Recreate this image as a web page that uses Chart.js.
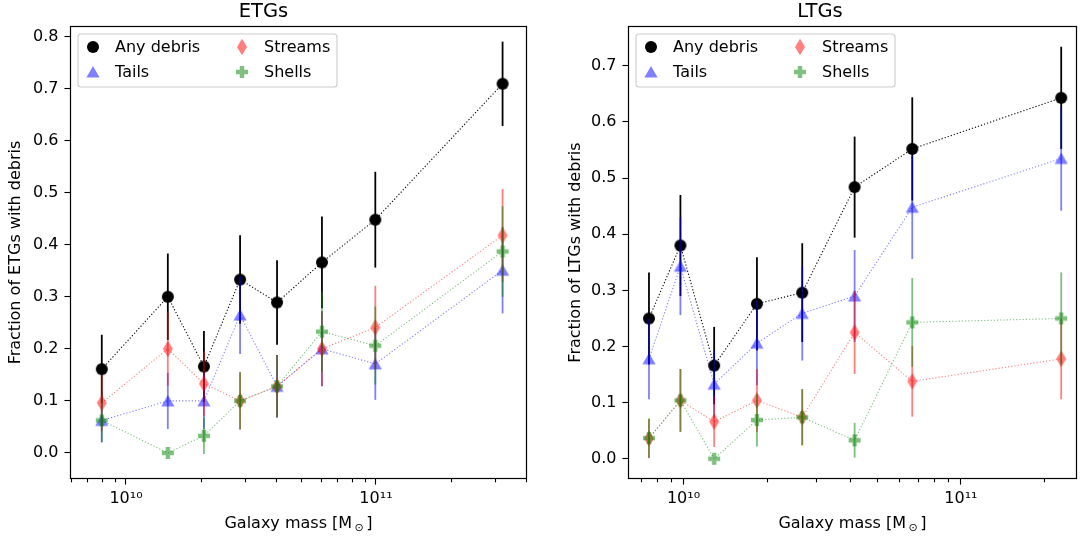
<!DOCTYPE html>
<html><head><meta charset="utf-8">
<script src="https://cdn.jsdelivr.net/npm/chart.js@4.4.1/dist/chart.umd.min.js"></script>
<style>
html,body{margin:0;padding:0;background:#fff;}
#wrap{position:relative;width:1084px;height:539px;overflow:hidden;}
.panel{position:absolute;top:0;width:542px;height:539px;}
</style></head><body>
<div id="wrap">
<div class="panel" style="left:0"><canvas id="c1" width="542" height="539"></canvas></div>
<div class="panel" style="left:542px"><canvas id="c2" width="542" height="539"></canvas></div>
</div>
<script>
// ---------- data ----------
const seriesNames = ['Any debris', 'Tails', 'Streams', 'Shells'];

// ETGs panel
const etgMass       = [8.0e9, 1.47e10, 2.05e10, 2.86e10, 4.02e10, 6.08e10, 9.94e10, 3.21e11];
const etgAny        = [0.161, 0.300, 0.166, 0.333, 0.289, 0.366, 0.448, 0.709];
const etgAnyErr     = [0.066, 0.083, 0.068, 0.085, 0.081, 0.088, 0.092, 0.081];
const etgTails      = [0.0625, 0.100, 0.100, 0.265, 0.128, 0.200, 0.171, 0.351];
const etgTailsErr   = [0.042, 0.054, 0.054, 0.075, 0.060, 0.072, 0.069, 0.083];
const etgStreams    = [0.096, 0.200, 0.133, 0.100, 0.128, 0.200, 0.241, 0.418];
const etgStreamsErr = [0.054, 0.071, 0.062, 0.055, 0.060, 0.072, 0.080, 0.089];
const etgShells     = [0.0625, 0.000, 0.033, 0.100, 0.128, 0.233, 0.206, 0.387];
const etgShellsErr  = [0.042, 0.000, 0.035, 0.055, 0.060, 0.077, 0.075, 0.087];

// LTGs panel
const ltgMass       = [7.51e9, 9.75e9, 1.29e10, 1.84e10, 2.68e10, 4.14e10, 6.68e10, 2.30e11];
const ltgAny        = [0.250, 0.380, 0.166, 0.276, 0.296, 0.484, 0.552, 0.643];
const ltgAnyErr     = [0.082, 0.090, 0.069, 0.083, 0.088, 0.090, 0.092, 0.091];
const ltgTails      = [0.178, 0.343, 0.133, 0.206, 0.259, 0.290, 0.448, 0.535];
const ltgTailsErr   = [0.072, 0.087, 0.060, 0.075, 0.084, 0.082, 0.092, 0.093];
const ltgStreams    = [0.036, 0.104, 0.066, 0.104, 0.074, 0.225, 0.138, 0.178];
const ltgStreamsErr = [0.035, 0.056, 0.045, 0.056, 0.050, 0.074, 0.063, 0.072];
const ltgShells     = [0.037, 0.104, 0.000, 0.069, 0.074, 0.033, 0.243, 0.250];
const ltgShellsErr  = [0.035, 0.056, 0.000, 0.047, 0.050, 0.031, 0.079, 0.082];

// ticks
const etgXTicks = [6e9, 7e9, 8e9, 9e9, 1e10, 2e10, 3e10, 4e10, 5e10, 6e10, 7e10, 8e10, 9e10, 1e11, 2e11, 3e11, 4e11];
const ltgXTicks = [7e9, 8e9, 9e9, 1e10, 2e10, 3e10, 4e10, 5e10, 6e10, 7e10, 8e10, 9e10, 1e11, 2e11];
const xMajorTicks = [1e10, 1e11];
const xMajorLabels = ['10\u00B9\u2070', '10\u00B9\u00B9'];
const etgYTicks = [0.0, 0.1, 0.2, 0.3, 0.4, 0.5, 0.6, 0.7, 0.8];
const etgYLabels = ['0.0', '0.1', '0.2', '0.3', '0.4', '0.5', '0.6', '0.7', '0.8'];
const ltgYTicks = [0.0, 0.1, 0.2, 0.3, 0.4, 0.5, 0.6, 0.7];
const ltgYLabels = ['0.0', '0.1', '0.2', '0.3', '0.4', '0.5', '0.6', '0.7'];
const xTitleParts = ['Galaxy mass [M', '\u2299', ']'];

// ---------- styling ----------
const FONT = 'DejaVu Sans';
Chart.defaults.font.family = FONT;
Chart.defaults.color = '#000';
const COLORS = ['rgba(0,0,0,1)', 'rgba(0,0,255,0.5)', 'rgba(255,0,0,0.5)', 'rgba(0,128,0,0.5)'];

function makeMarker(kind, color) {
  const c = document.createElement('canvas');
  const s = 20; c.width = s; c.height = s;
  const g = c.getContext('2d');
  const m = s / 2;
  g.fillStyle = color;
  g.beginPath();
  if (kind === 'circle') {
    g.arc(m, m, 6.0, 0, Math.PI * 2);
  } else if (kind === 'triangle') {
    g.moveTo(m, m - 6.0); g.lineTo(m + 6.6, m + 5.4); g.lineTo(m - 6.6, m + 5.4); g.closePath();
  } else if (kind === 'thindiamond') {
    g.moveTo(m, m - 8.3); g.lineTo(m + 5.0, m); g.lineTo(m, m + 8.3); g.lineTo(m - 5.0, m); g.closePath();
  } else if (kind === 'plus') {
    const a = 6.0, t = 2.2;
    g.moveTo(m - t, m - a); g.lineTo(m + t, m - a); g.lineTo(m + t, m - t); g.lineTo(m + a, m - t);
    g.lineTo(m + a, m + t); g.lineTo(m + t, m + t); g.lineTo(m + t, m + a); g.lineTo(m - t, m + a);
    g.lineTo(m - t, m + t); g.lineTo(m - a, m + t); g.lineTo(m - a, m - t); g.lineTo(m - t, m - t); g.closePath();
  }
  g.fill();
  return c;
}
const MARKERS = [
  makeMarker('circle', COLORS[0]),
  makeMarker('triangle', COLORS[1]),
  makeMarker('thindiamond', COLORS[2]),
  makeMarker('plus', COLORS[3])
];

const errorBarPlugin = {
  id: 'errorBars',
  beforeDatasetDraw(chart, args) {
    const ds = chart.data.datasets[args.index];
    if (!ds.errors) return;
    const ctx = chart.ctx, xs = chart.scales.x, ys = chart.scales.y;
    ctx.save();
    ctx.strokeStyle = ds.errColor;
    ctx.lineWidth = 1.8;
    ds.data.forEach((p, i) => {
      const e = ds.errors[i];
      if (!e) return;
      const px = xs.getPixelForValue(p.x);
      ctx.beginPath();
      ctx.moveTo(px, ys.getPixelForValue(p.y - e));
      ctx.lineTo(px, ys.getPixelForValue(p.y + e));
      ctx.stroke();
    });
    ctx.restore();
  }
};

const framePlugin = {
  id: 'frameAndLegend',
  afterDraw(chart) {
    const ctx = chart.ctx, a = chart.chartArea;
    ctx.save();
    // minor ticks
    const xs = chart.scales.x;
    ctx.strokeStyle = '#000'; ctx.lineWidth = 1.1;
    xs.ticks.forEach(t => {
      if (t.isMajorTick) return;
      const px = Math.round(xs.getPixelForValue(t.value)) + 0.5;
      ctx.beginPath(); ctx.moveTo(px, a.bottom); ctx.lineTo(px, a.bottom + 3.3); ctx.stroke();
    });
    // frame
    ctx.lineWidth = 1.2;
    ctx.strokeRect(Math.round(a.left) + 0.5, Math.round(a.top) + 0.5, Math.round(a.right - a.left) - 1, Math.round(a.bottom - a.top) - 1);
    // x axis title with subscript sun symbol
    ctx.fillStyle = '#000'; ctx.textBaseline = 'alphabetic'; ctx.textAlign = 'left';
    const big = '16px ' + FONT, small = '11px ' + FONT;
    ctx.font = big; const w1 = ctx.measureText(xTitleParts[0]).width; const w3 = ctx.measureText(xTitleParts[2]).width;
    ctx.font = small; const w2 = ctx.measureText(xTitleParts[1]).width;
    const gap = 2.5;
    const total = w1 + gap + w2 + gap + w3;
    let tx = (a.left + a.right) / 2 - total / 2;
    const base = 528;
    ctx.font = big; ctx.fillText(xTitleParts[0], tx, base); tx += w1 + gap;
    ctx.font = small; ctx.fillText(xTitleParts[1], tx, base + 2.5); tx += w2 + gap;
    ctx.font = big; ctx.fillText(xTitleParts[2], tx, base);
    // legend
    const x0 = a.left + 8, y0 = a.top + 8, w = 259, h = 53, r = 3;
    ctx.beginPath();
    ctx.moveTo(x0 + r, y0); ctx.lineTo(x0 + w - r, y0); ctx.arcTo(x0 + w, y0, x0 + w, y0 + r, r);
    ctx.lineTo(x0 + w, y0 + h - r); ctx.arcTo(x0 + w, y0 + h, x0 + w - r, y0 + h, r);
    ctx.lineTo(x0 + r, y0 + h); ctx.arcTo(x0, y0 + h, x0, y0 + h - r, r);
    ctx.lineTo(x0, y0 + r); ctx.arcTo(x0, y0, x0 + r, y0, r); ctx.closePath();
    ctx.fillStyle = 'rgba(255,255,255,0.8)'; ctx.fill();
    ctx.strokeStyle = 'rgba(204,204,204,1)'; ctx.lineWidth = 1.1; ctx.stroke();
    const cols = [0, 0, 149, 149], rows = [13, 38, 13, 38];
    ctx.font = '16px ' + FONT; ctx.fillStyle = '#000'; ctx.textBaseline = 'middle'; ctx.textAlign = 'left';
    seriesNames.forEach((name, i) => {
      const mx = x0 + 15 + cols[i], my = y0 + rows[i];
      const mk = MARKERS[i];
      ctx.drawImage(mk, mx - mk.width / 2, my - mk.height / 2);
      ctx.fillText(name, mx + 22, my + 1);
    });
    ctx.restore();
  }
};

function makeChart(id, cfg) {
  const datasets = cfg.series.map((s, i) => ({
    label: seriesNames[i],
    data: cfg.mass.map((m, j) => ({ x: m, y: s.v[j] })),
    errors: s.e,
    errColor: COLORS[i],
    showLine: true,
    borderColor: COLORS[i],
    borderWidth: 1.1,
    borderDash: [1.2, 2],
    pointStyle: MARKERS[i],
    pointRadius: 6,
    pointHoverRadius: 6,
    order: 4 - i
  }));
  return new Chart(document.getElementById(id), {
    type: 'scatter',
    data: { datasets },
    plugins: [errorBarPlugin, framePlugin],
    options: {
      responsive: false,
      animation: false,
      events: [],
      layout: { padding: { left: cfg.padLeft, right: cfg.padRight, top: 0, bottom: 0 } },
      plugins: {
        legend: { display: false },
        tooltip: { enabled: false },
        title: { display: true, text: cfg.title, font: { size: 19.5, weight: 'normal' }, color: '#000', padding: { top: 0, bottom: 2.6 } }
      },
      scales: {
        x: {
          type: 'logarithmic', min: cfg.xmin, max: cfg.xmax,
          afterBuildTicks: s => { s.ticks = cfg.xTicks.map(v => ({ value: v, isMajorTick: xMajorTicks.includes(v) })); },
          afterFit: s => { s.height = 60; },
          ticks: {
            autoSkip: false, maxRotation: 0, minRotation: 0, padding: 5,
            font: { size: 16 }, color: '#000',
            callback: (v) => { const k = xMajorTicks.indexOf(v); return k >= 0 ? xMajorLabels[k] : ''; }
          },
          grid: {
            drawOnChartArea: false, tickLength: 5.6, tickWidth: 1.1,
            tickColor: c => (c.tick && xMajorTicks.includes(c.tick.value)) ? '#000' : 'rgba(0,0,0,0)'
          },
          border: { display: false },
          title: { display: false }
        },
        y: {
          type: 'linear', min: cfg.ymin, max: cfg.ymax,
          afterBuildTicks: s => { s.ticks = cfg.yTicks.map(v => ({ value: v })); },
          afterFit: s => { s.width = cfg.yWidth; },
          ticks: { padding: 6, font: { size: 16 }, color: '#000', callback: (v, i) => cfg.yLabels[i] },
          grid: { drawOnChartArea: false, tickLength: 5.6, tickWidth: 1.1, tickColor: '#000' },
          border: { display: false },
          title: { display: true, text: cfg.ytitle, font: { size: 16 }, color: '#000', padding: { top: 6.4, bottom: 0 } }
        }
      }
    }
  });
}

makeChart('c1', {
  title: 'ETGs', ytitle: 'Fraction of ETGs with debris',
  mass: etgMass,
  series: [{ v: etgAny, e: etgAnyErr }, { v: etgTails, e: etgTailsErr }, { v: etgStreams, e: etgStreamsErr }, { v: etgShells, e: etgShellsErr }],
  xmin: 5.97e9, xmax: 4.02e11, ymin: -0.05, ymax: 0.82,
  xTicks: etgXTicks, yTicks: etgYTicks, yLabels: etgYLabels,
  padLeft: 0, padRight: 15, yWidth: 70
});
makeChart('c2', {
  title: 'LTGs', ytitle: 'Fraction of LTGs with debris',
  mass: ltgMass,
  series: [{ v: ltgAny, e: ltgAnyErr }, { v: ltgTails, e: ltgTailsErr }, { v: ltgStreams, e: ltgStreamsErr }, { v: ltgShells, e: ltgShellsErr }],
  xmin: 6.31e9, xmax: 2.62e11, ymin: -0.036, ymax: 0.771,
  xTicks: ltgXTicks, yTicks: ltgYTicks, yLabels: ltgYLabels,
  padLeft: 18, padRight: 4, yWidth: 68
});
</script>
</body></html>
